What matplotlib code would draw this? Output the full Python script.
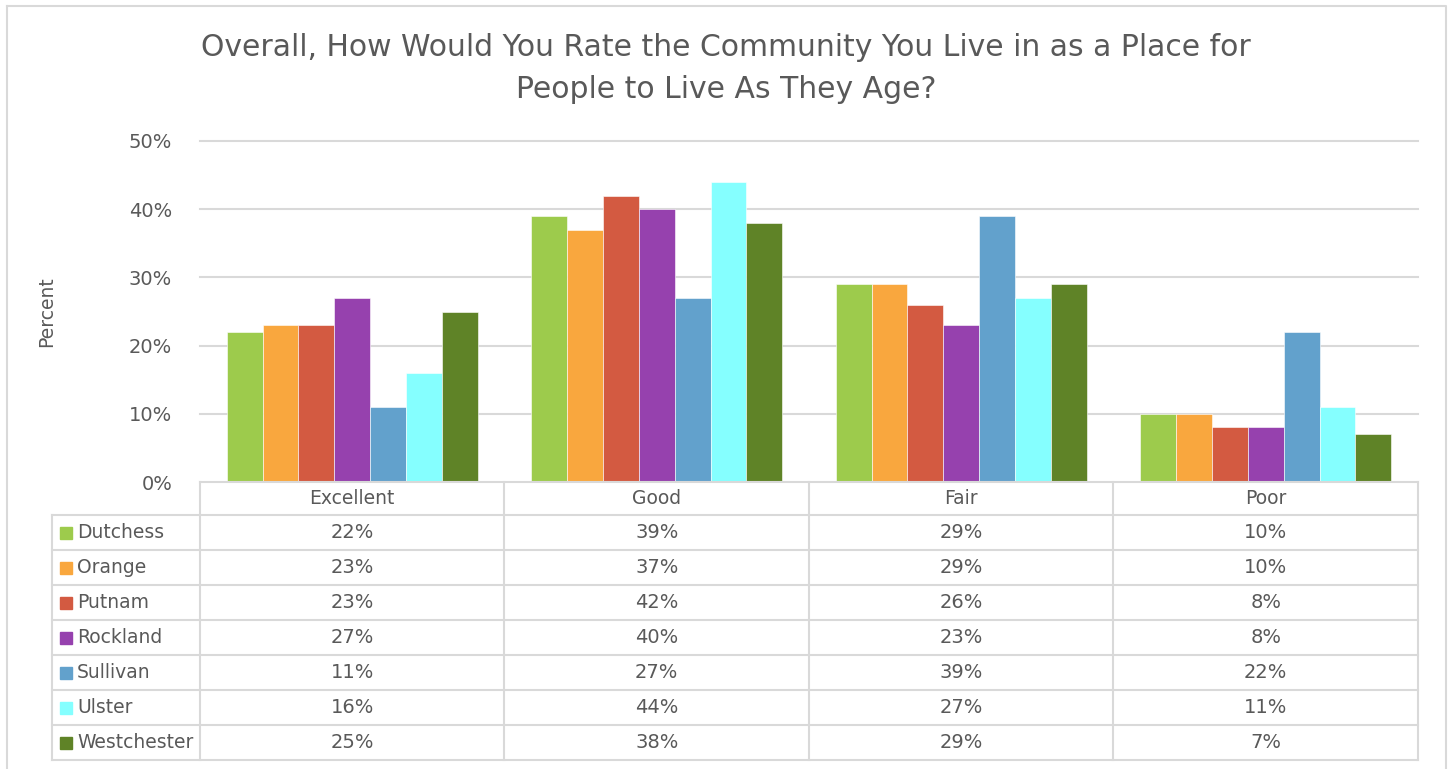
import numpy as np
import matplotlib
matplotlib.use("Agg")
import matplotlib.pyplot as plt

plt.rcParams['font.family'] = ['DejaVu Sans']

# data
categories = ["Excellent", "Good", "Fair", "Poor"]
counties = ["Dutchess", "Orange", "Putnam", "Rockland", "Sullivan", "Ulster", "Westchester"]
dutchess = [22, 39, 29, 10]
orange = [23, 37, 29, 10]
putnam = [23, 42, 26, 8]
rockland = [27, 40, 23, 8]
sullivan = [11, 27, 39, 22]
ulster = [16, 44, 27, 11]
westchester = [25, 38, 29, 7]
series = [dutchess, orange, putnam, rockland, sullivan, ulster, westchester]
colors = ["#9DCB4C", "#F9A73E", "#D35A41", "#9641AE", "#62A1CC", "#85FFFF", "#5F8327"]

W, H = 1450, 769
txt = "#595959"
grid_c = "#D9D9D9"

fig = plt.figure(figsize=(W / 100, H / 100), dpi=100)

# plot area in pixels
left, right, top, bottom = 200, 1418, 141, 482
ax = fig.add_axes([left / W, 1 - bottom / H, (right - left) / W, (bottom - top) / H])

n = len(series)
group_w = 0.825
bw = group_w / n
x = np.arange(len(categories))
for i, (vals, c) in enumerate(zip(series, colors)):
    offs = -group_w / 2 + bw * (i + 0.5)
    ax.bar(x + offs, np.array(vals) / 100, width=bw, color=c, edgecolor="white", linewidth=0.4, zorder=3)

ticks = np.arange(0, 0.51, 0.1)
ax.set_xlim(-0.5, len(categories) - 0.5)
ax.set_ylim(0, 0.5)
ax.set_yticks(ticks)
ax.set_yticklabels([f"{int(round(t * 100))}%" for t in ticks], fontsize=14, color=txt)
ax.set_xticks([])
ax.tick_params(axis='y', length=0, pad=20)
for t in ticks[1:]:
    ax.axhline(t, color=grid_c, linewidth=1.5, zorder=0, clip_on=False)
for s in ax.spines.values():
    s.set_visible(False)
ax.set_ylabel("Percent", fontsize=13.5, color=txt, labelpad=52)

# overlay for frame, title and data table
ov = fig.add_axes([0, 0, 1, 1], zorder=5)
ov.set_xlim(0, W)
ov.set_ylim(H, 0)
ov.axis("off")
ov.patch.set_alpha(0)

# chart border
ov.plot([7, 1446, 1446, 7, 7], [6, 6, 775, 775, 6], color=grid_c, linewidth=1.5, clip_on=False)

ov.text(726, 48, "Overall, How Would You Rate the Community You Live in as a Place for",
        ha="center", va="center", fontsize=21.5, color=txt)
ov.text(726, 89, "People to Live As They Age?", ha="center", va="center", fontsize=21.5, color=txt)

# table
row_h = 35
hdr_top = 482
tab_left = 52
col_w = (right - left) / len(categories)
n_rows = len(counties)
tab_bottom = hdr_top + row_h * (n_rows + 1) - 2

lw = 1.5
ov.plot([left, right], [hdr_top, hdr_top], color=grid_c, lw=lw)
for k in range(len(categories) + 1):
    ov.plot([left + k * col_w] * 2, [hdr_top, tab_bottom], color=grid_c, lw=lw)
ov.plot([tab_left, tab_left], [hdr_top + 33, tab_bottom], color=grid_c, lw=lw)
row_tops = [hdr_top + 33 + j * row_h for j in range(n_rows + 1)]
row_tops[-1] = tab_bottom
for yline in row_tops:
    ov.plot([tab_left, right], [yline, yline], color=grid_c, lw=lw)

for k, cat in enumerate(categories):
    ov.text(left + (k + 0.5) * col_w, hdr_top + 17, cat, ha="center", va="center", fontsize=13.5, color=txt)

for j, (name, vals, c) in enumerate(zip(counties, series, colors)):
    yc = (row_tops[j] + row_tops[j + 1]) / 2
    ov.add_patch(plt.Rectangle((60, yc - 6), 12, 12, color=c))
    ov.text(77, yc, name, ha="left", va="center", fontsize=13.5, color=txt)
    for k, v in enumerate(vals):
        ov.text(left + (k + 0.5) * col_w, yc, f"{v}%", ha="center", va="center", fontsize=14, color=txt)

fig.savefig("out.png", dpi=100)
